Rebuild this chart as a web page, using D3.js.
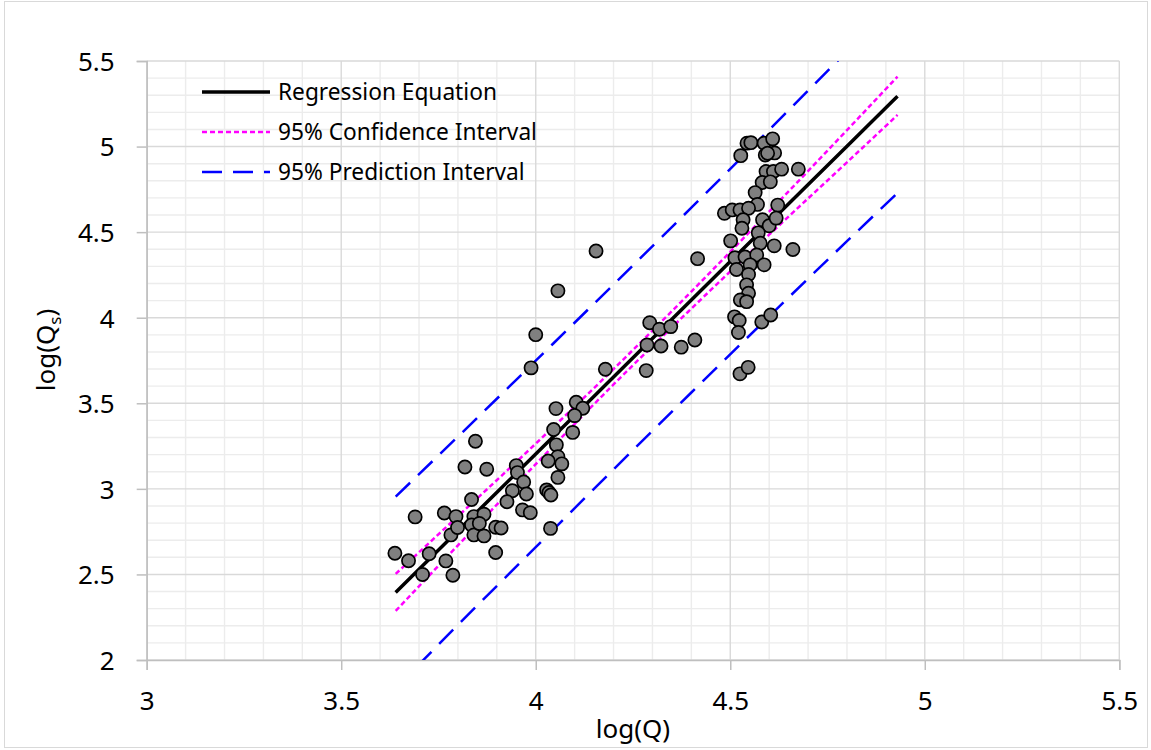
<!DOCTYPE html>
<html>
<head>
<meta charset="utf-8">
<script src="https://cdn.jsdelivr.net/npm/d3@7"></script>
<style>
  body { margin: 0; background: #fff; }
  svg { display: block; font-family: 'Noto Sans', sans-serif; }
</style>
</head>
<body>
<div id="chart"></div>
<script>
// observed points, log(Q) and log(Qs)
const logQ = [
  3.638, 3.673, 3.709, 3.690, 3.726, 3.769, 3.787, 3.765, 3.795, 3.782,
  3.799, 3.835, 3.818, 3.845, 3.874, 3.841, 3.835, 3.841, 3.867, 3.867,
  3.855, 3.897, 3.911, 3.897, 3.950, 3.953, 3.969, 3.940, 3.976, 3.926,
  3.966, 3.986, 4.046, 4.095, 4.053, 4.057, 4.032, 4.067, 4.057, 4.028,
  4.034, 4.039, 4.038, 4.155, 4.057, 4.000, 3.988, 4.179, 4.416, 4.293,
  4.318, 4.347, 4.286, 4.322, 4.374, 4.409, 4.284, 4.052, 4.104, 4.121,
  4.100, 4.527, 4.543, 4.553, 4.587, 4.609, 4.614, 4.590, 4.596, 4.592,
  4.611, 4.632, 4.675, 4.582, 4.603, 4.564, 4.570, 4.622, 4.485, 4.505,
  4.525, 4.547, 4.533, 4.530, 4.583, 4.600, 4.618, 4.501, 4.572, 4.577,
  4.613, 4.661, 4.512, 4.538, 4.568, 4.516, 4.551, 4.587, 4.547, 4.542,
  4.547, 4.526, 4.542, 4.511, 4.523, 4.521, 4.581, 4.604, 4.525, 4.546
];
const logQs = [
  2.624, 2.580, 2.500, 2.836, 2.621, 2.579, 2.495, 2.859, 2.838, 2.731,
  2.774, 2.938, 3.128, 3.278, 3.115, 2.838, 2.789, 2.731, 2.725, 2.852,
  2.798, 2.776, 2.771, 2.628, 3.136, 3.095, 3.040, 2.989, 2.970, 2.925,
  2.877, 2.861, 3.347, 3.330, 3.257, 3.188, 3.163, 3.146, 3.067, 2.994,
  2.979, 2.964, 2.769, 4.390, 4.157, 3.901, 3.707, 3.699, 4.345, 3.971,
  3.933, 3.948, 3.841, 3.835, 3.828, 3.870, 3.691, 3.469, 3.506, 3.471,
  3.428, 4.947, 5.020, 5.023, 5.020, 5.045, 4.963, 4.951, 4.961, 4.854,
  4.854, 4.868, 4.868, 4.790, 4.794, 4.731, 4.662, 4.658, 4.610, 4.630,
  4.630, 4.640, 4.572, 4.523, 4.572, 4.537, 4.582, 4.449, 4.496, 4.435,
  4.420, 4.399, 4.350, 4.355, 4.367, 4.282, 4.309, 4.309, 4.253, 4.192,
  4.143, 4.104, 4.094, 4.005, 3.984, 3.914, 3.975, 4.016, 3.672, 3.710
];

// regression line and interval bands, read at these log(Q) values
const bandQ   = [3.64, 3.80, 4.00, 4.20, 4.40, 4.60, 4.80, 4.93];
const fitQs   = [2.395, 2.755, 3.204, 3.654, 4.103, 4.553, 5.002, 5.294];
const ciUpper = [2.503, 2.840, 3.264, 3.700, 4.153, 4.620, 5.096, 5.409];
const ciLower = [2.287, 2.670, 3.144, 3.610, 4.053, 4.485, 4.908, 5.185];
const piUpper = [2.955, 3.305, 3.749, 4.194, 4.643, 5.098, 5.557, 5.859];
const piLower = [1.835, 2.205, 2.659, 3.114, 3.563, 4.008, 4.447, 4.729];

const xTicks = [3, 3.5, 4, 4.5, 5, 5.5];
const yTicks = [2, 2.5, 3, 3.5, 4, 4.5, 5, 5.5];

const legendItems = [
  {label: 'Regression Equation', color: '#000', width: 3.6, dash: null},
  {label: '95% Confidence Interval', color: '#ff00ff', width: 2.5, dash: '5,3'},
  {label: '95% Prediction Interval', color: '#0000ff', width: 2.5, dash: '20,11'}
];

const w = 1151;
const h = 750;
const padL = 146.7, padR = 1119.3, padT = 61, padB = 660;

const svg = d3.select('#chart')
  .append('svg')
  .attr('width', w)
  .attr('height', h);

svg.append('rect')
  .attr('x', 4.5).attr('y', 1.5)
  .attr('width', 1143).attr('height', 746)
  .attr('fill', '#fff')
  .attr('stroke', '#d9d9d9');

const x = d3.scaleLinear().domain([3, 5.5]).range([padL, padR]);
const y = d3.scaleLinear().domain([2, 5.5]).range([padB, padT]);

// minor grid every 0.1
const minorX = d3.range(31, 55).map(d => d / 10).filter(d => Math.round(d * 10) % 5 !== 0);
const minorY = d3.range(21, 55).map(d => d / 10).filter(d => Math.round(d * 10) % 5 !== 0);

const grid = svg.append('g');
grid.selectAll('.mx').data(minorX).enter().append('line')
  .attr('x1', d => x(d)).attr('x2', d => x(d))
  .attr('y1', padT).attr('y2', padB)
  .attr('stroke', '#ececec').attr('stroke-width', 1.4);
grid.selectAll('.my').data(minorY).enter().append('line')
  .attr('y1', d => y(d)).attr('y2', d => y(d))
  .attr('x1', padL).attr('x2', padR)
  .attr('stroke', '#ececec').attr('stroke-width', 1.4);
grid.selectAll('.Mx').data(xTicks).enter().append('line')
  .attr('x1', d => x(d)).attr('x2', d => x(d))
  .attr('y1', padT).attr('y2', padB)
  .attr('stroke', '#d9d9d9').attr('stroke-width', 1.4);
grid.selectAll('.My').data(yTicks).enter().append('line')
  .attr('y1', d => y(d)).attr('y2', d => y(d))
  .attr('x1', padL).attr('x2', padR)
  .attr('stroke', '#d9d9d9').attr('stroke-width', 1.4);

const xAxis = d3.axisBottom(x).tickValues(xTicks).tickFormat(d => d).tickSize(10).tickPadding(22);
const yAxis = d3.axisLeft(y).tickValues(yTicks).tickFormat(d => d).tickSize(10).tickPadding(22);

const gx = svg.append('g')
  .attr('transform', `translate(0, ${padB})`)
  .call(xAxis);
const gy = svg.append('g')
  .attr('transform', `translate(${padL}, 0)`)
  .call(yAxis);

[gx, gy].forEach(g => {
  g.select('.domain').attr('stroke', '#bfbfbf').attr('stroke-width', 1.5);
  g.selectAll('.tick line').attr('stroke', '#bfbfbf').attr('stroke-width', 1.5);
  g.selectAll('.tick text')
    .attr('fill', '#000')
    .style('font-size', '26px')
    .style('font-family', "'Noto Sans', sans-serif");
});
gy.selectAll('.tick text').attr('dy', '0.36em');

svg.append('defs').append('clipPath').attr('id', 'plot-clip')
  .append('rect')
  .attr('x', padL).attr('y', padT)
  .attr('width', padR - padL).attr('height', padB - padT);

const plot = svg.append('g').attr('clip-path', 'url(#plot-clip)');

const line = d3.line()
  .x(d => x(d[0]))
  .y(d => y(d[1]))
  .curve(d3.curveMonotoneX);

const bands = [
  {vals: piUpper, color: '#0000ff', width: 2.5, dash: '20,11'},
  {vals: piLower, color: '#0000ff', width: 2.5, dash: '20,11'},
  {vals: ciUpper, color: '#ff00ff', width: 2.5, dash: '5,3'},
  {vals: ciLower, color: '#ff00ff', width: 2.5, dash: '5,3'},
  {vals: fitQs, color: '#000', width: 3.5, dash: null}
];

bands.forEach(b => {
  plot.append('path')
    .datum(bandQ.map((q, i) => [q, b.vals[i]]))
    .attr('d', line)
    .attr('fill', 'none')
    .attr('stroke', b.color)
    .attr('stroke-width', b.width)
    .attr('stroke-dasharray', b.dash);
});

svg.append('g')
  .selectAll('circle')
  .data(logQ.map((q, i) => [q, logQs[i]]))
  .enter()
  .append('circle')
  .attr('cx', d => x(d[0]))
  .attr('cy', d => y(d[1]))
  .attr('r', 6.6)
  .attr('fill', '#808080')
  .attr('stroke', '#000')
  .attr('stroke-width', 1.7);

// legend
const legend = svg.append('g').attr('transform', 'translate(202, 92)');
legendItems.forEach((it, i) => {
  const row = legend.append('g').attr('transform', `translate(0, ${i * 40})`);
  row.append('line')
    .attr('x1', 0).attr('x2', 68)
    .attr('stroke', it.color)
    .attr('stroke-width', it.width)
    .attr('stroke-dasharray', it.dash);
  row.append('text')
    .attr('x', 76)
    .attr('dy', '0.36em')
    .style('font-size', '22.7px')
    .text(it.label);
});

// axis titles
svg.append('text')
  .attr('x', (padL + padR) / 2)
  .attr('y', 738)
  .attr('text-anchor', 'middle')
  .style('font-size', '26px')
  .text('log(Q)');

const yt = svg.append('text')
  .attr('transform', 'translate(55, 350) rotate(-90)')
  .attr('text-anchor', 'middle')
  .style('font-size', '26px');
yt.append('tspan').text('log(Q');
yt.append('tspan').attr('dy', 6).style('font-size', '17px').text('s');
yt.append('tspan').attr('dy', -6).text(')');
</script>
</body>
</html>
